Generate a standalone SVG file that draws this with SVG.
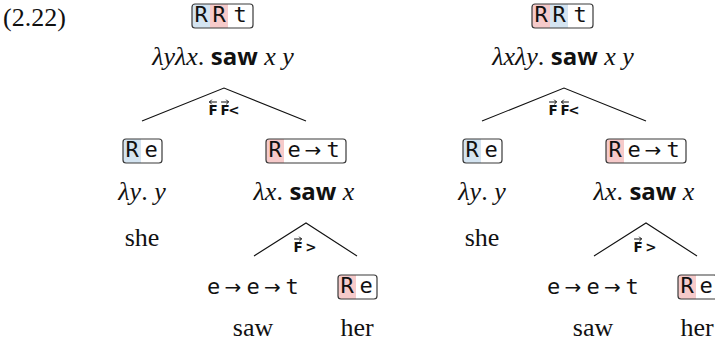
<svg xmlns="http://www.w3.org/2000/svg" width="715" height="341" viewBox="0 0 715 341">
  <style>
    .bg { fill: #ffffff; }
    .box { fill: none; stroke: #3a3a3a; stroke-width: 1.2; }
    .blue { fill: #d4e4f1; }
    .pink { fill: #f6caca; }
    .ty { font-family: "DejaVu Sans Mono", monospace; font-size: 22px; fill: #111; text-anchor: middle; }
    .ar { font-family: "DejaVu Sans", sans-serif; font-size: 20px; }
    .tm { font-family: "Liberation Serif", serif; font-size: 26px; fill: #111; text-anchor: middle; }
    .it { font-style: italic; }
    .bf { font-family: "Open Sans", "DejaVu Sans", sans-serif; font-weight: bold; font-style: normal; font-size: 24px; }
    .wd { font-family: "Liberation Serif", serif; font-size: 26px; fill: #111; text-anchor: middle; }
    .num { font-family: "Liberation Serif", serif; font-size: 26px; fill: #111; }
    .edge { fill: none; stroke: #111; stroke-width: 1.1; }
    .rule { font-family: "DejaVu Sans", sans-serif; font-weight: bold; font-size: 13.5px; fill: #111; text-anchor: middle; }
    .acc { fill: none; stroke: #111; stroke-width: 1; stroke-linecap: round; stroke-linejoin: round; }
  </style>

  <rect class="bg" x="0" y="0" width="715" height="341"/>

  <text class="num" x="3" y="26">(2.22)</text>

  <!-- ===== first derivation ===== -->
  <g id="l-root">
    <path class="blue" d="M195,4 H210 V28 H195 A3,3 0 0 1 192,25 V7 A3,3 0 0 1 195,4 Z"/>
    <rect class="pink" x="210" y="4" width="18" height="24"/>
    <rect class="box" x="192" y="4" width="61" height="24" rx="3"/>
    <text class="ty" x="201 219 240" y="22">RRt</text>
    <text class="tm" x="223" y="65"><tspan class="it">λyλx</tspan>. <tspan class="bf">saw</tspan> <tspan class="it">x y</tspan></text>
  </g>

  <g id="l-she">
    <path class="blue" d="M126,139 H141 V163 H126 A3,3 0 0 1 123,160 V142 A3,3 0 0 1 126,139 Z"/>
    <rect class="box" x="123" y="139" width="39" height="24" rx="3"/>
    <text class="ty" x="132 151" y="157">Re</text>
    <text class="tm" x="142" y="200"><tspan class="it">λy</tspan>. <tspan class="it">y</tspan></text>
    <text class="wd" x="142" y="246">she</text>
  </g>

  <g id="l-vp">
    <path class="pink" d="M269,139 H284 V163 H269 A3,3 0 0 1 266,160 V142 A3,3 0 0 1 269,139 Z"/>
    <rect class="box" x="266" y="139" width="80" height="24" rx="3"/>
    <text class="ty" x="275 294 313 333" y="157">Re<tspan class="ar">→</tspan>t</text>
    <text class="tm" x="304" y="200"><tspan class="it">λx</tspan>. <tspan class="bf">saw</tspan> <tspan class="it">x</tspan></text>
  </g>

  <g id="l-saw">
    <text class="ty" x="213.5 233 253 272.5 292" y="294">e<tspan class="ar">→</tspan>e<tspan class="ar">→</tspan>t</text>
    <text class="wd" x="253" y="336">saw</text>
  </g>

  <g id="l-her">
    <path class="pink" d="M341,275 H356 V299 H341 A3,3 0 0 1 338,296 V278 A3,3 0 0 1 341,275 Z"/>
    <rect class="box" x="338" y="275" width="39" height="24" rx="3"/>
    <text class="ty" x="347 366" y="293">Re</text>
    <text class="wd" x="357" y="336">her</text>
  </g>

  <!-- ===== second derivation ===== -->
  <g id="r-root">
    <path class="pink" d="M535,4 H550 V28 H535 A3,3 0 0 1 532,25 V7 A3,3 0 0 1 535,4 Z"/>
    <rect class="blue" x="550" y="4" width="18" height="24"/>
    <rect class="box" x="532" y="4" width="61" height="24" rx="3"/>
    <text class="ty" x="541 559 580" y="22">RRt</text>
    <text class="tm" x="563" y="65"><tspan class="it">λxλy</tspan>. <tspan class="bf">saw</tspan> <tspan class="it">x y</tspan></text>
  </g>

  <g id="r-she">
    <path class="blue" d="M466,139 H481 V163 H466 A3,3 0 0 1 463,160 V142 A3,3 0 0 1 466,139 Z"/>
    <rect class="box" x="463" y="139" width="39" height="24" rx="3"/>
    <text class="ty" x="472 491" y="157">Re</text>
    <text class="tm" x="482" y="200"><tspan class="it">λy</tspan>. <tspan class="it">y</tspan></text>
    <text class="wd" x="482" y="246">she</text>
  </g>

  <g id="r-vp">
    <path class="pink" d="M609,139 H624 V163 H609 A3,3 0 0 1 606,160 V142 A3,3 0 0 1 609,139 Z"/>
    <rect class="box" x="606" y="139" width="80" height="24" rx="3"/>
    <text class="ty" x="615 634 653 673" y="157">Re<tspan class="ar">→</tspan>t</text>
    <text class="tm" x="644" y="200"><tspan class="it">λx</tspan>. <tspan class="bf">saw</tspan> <tspan class="it">x</tspan></text>
  </g>

  <g id="r-saw">
    <text class="ty" x="553.5 573 593 612.5 632" y="294">e<tspan class="ar">→</tspan>e<tspan class="ar">→</tspan>t</text>
    <text class="wd" x="593" y="336">saw</text>
  </g>

  <g id="r-her">
    <path class="pink" d="M681,275 H696 V299 H681 A3,3 0 0 1 678,296 V278 A3,3 0 0 1 681,275 Z"/>
    <rect class="box" x="678" y="275" width="39" height="24" rx="3"/>
    <text class="ty" x="687 706" y="293">Re</text>
    <text class="wd" x="697" y="336">her</text>
  </g>

  <!-- ===== branches with their combination rules ===== -->
  <g id="connectors">
    <!-- first derivation: backward/forward application at the root, forward below -->
    <polyline class="edge" points="142,121 224,88 306,121"/>
    <text class="rule" x="213 225 234" y="115">FF&lt;</text>
    <path class="acc" d="M216.5,102 H209.5 M211.5,100 L209.5,102 L211.5,104"/>
    <path class="acc" d="M221.5,102 H228.5 M226.5,100 L228.5,102 L226.5,104"/>

    <polyline class="edge" points="254,256 306,223 357,256"/>
    <text class="rule" x="298 311" y="252">F&gt;</text>
    <path class="acc" d="M294.5,239 H301.5 M299.5,237 L301.5,239 L299.5,241"/>

    <!-- second derivation: forward/backward application at the root, forward below -->
    <polyline class="edge" points="482,121 564,88 646,121"/>
    <text class="rule" x="553 565 574" y="115">FF&lt;</text>
    <path class="acc" d="M549.5,102 H556.5 M554.5,100 L556.5,102 L554.5,104"/>
    <path class="acc" d="M568.5,102 H561.5 M563.5,100 L561.5,102 L563.5,104"/>

    <polyline class="edge" points="594,256 646,223 697,256"/>
    <text class="rule" x="638 651" y="252">F&gt;</text>
    <path class="acc" d="M634.5,239 H641.5 M639.5,237 L641.5,239 L639.5,241"/>
  </g>
</svg>
